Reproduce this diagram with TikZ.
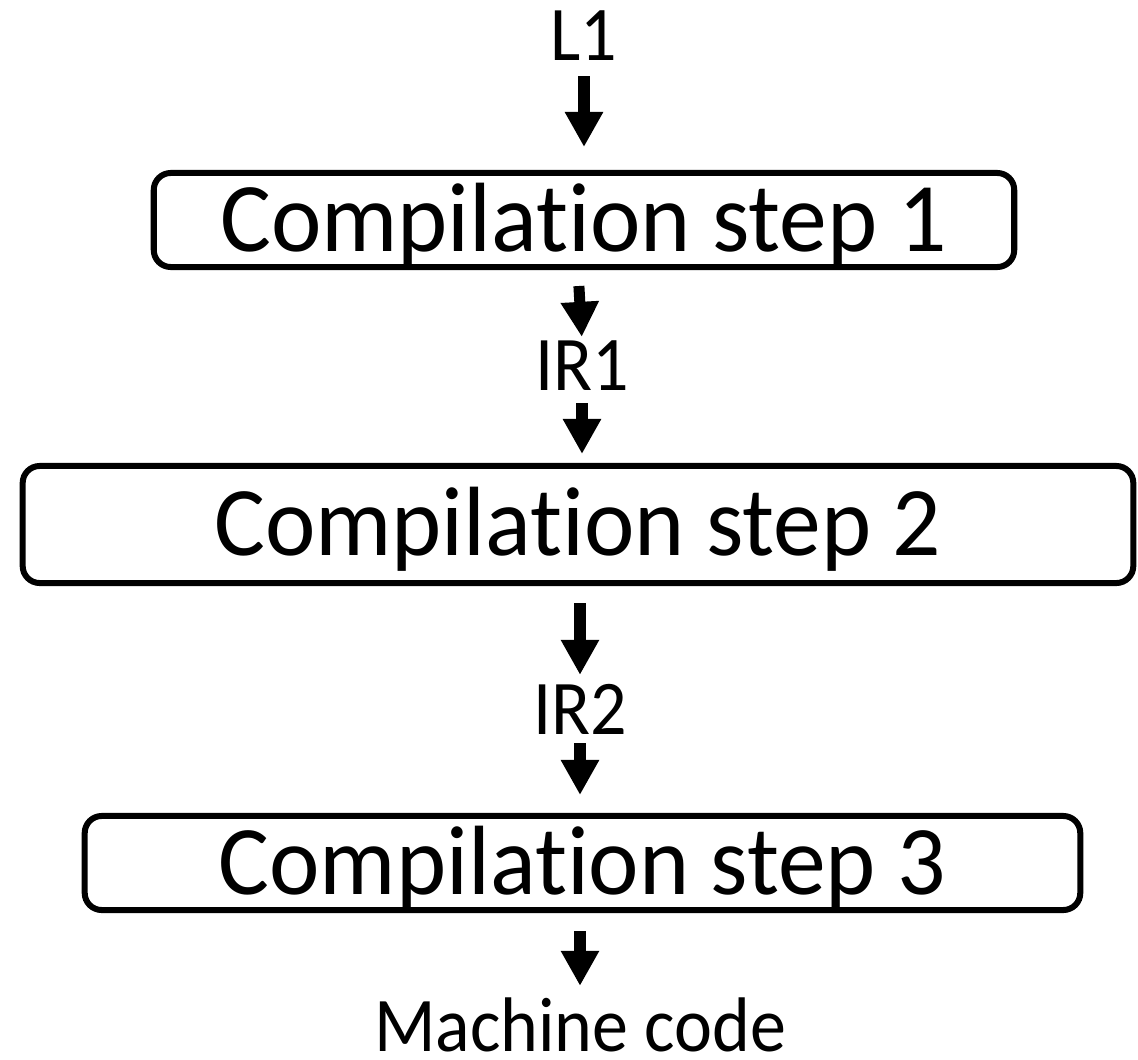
\documentclass[tikz,border=0pt]{standalone}
\usepackage{fontspec}
\setmainfont[Ligatures=NoCommon]{Carlito}
\newfontfamily\boxfont[Ligatures=NoCommon, FakeStretch=0.97]{Carlito}
\newfontfamily\tagfont[Ligatures=NoCommon, FakeStretch=0.93]{Carlito}
\usetikzlibrary{arrows.meta}

\tikzset{
  stepbox/.style={draw, line width=0.06cm, rounded corners=0.17cm,
    font=\boxfont\fontsize{28}{34}\selectfont, text height=17.7pt, text depth=0pt, inner sep=0pt},
  tag/.style={font=\tagfont\fontsize{22}{27}\selectfont, text height=13.9pt, text depth=0pt, inner sep=0pt},
  flow/.style={line width=0.11cm, -{Triangle[width=0.36cm,length=0.35cm]}},
}

\begin{document}
\begin{tikzpicture}[x=0.01cm, y=-0.01cm]

  % --- 1. 全体の枠 ---
  \useasboundingbox (0,0) rectangle (1138,1060);

  % --- 2. 入力・中間表現・出力のラベル ---
  \node[tag] (l1)  at (584, 36)   {L1};
  \node[tag] (ir1) at (582, 366)  {IR1};
  \node[tag] (ir2) at (580, 710)  {IR2};
  \node[tag] (mc)  at (580, 1027) {Machine code};

  % --- 3. コンパイル段（角丸の枠） ---
  \node[stepbox, minimum width=8.60cm,  minimum height=0.94cm] (step1) at (584, 220)   {Compilation step 1};
  \node[stepbox, minimum width=11.10cm, minimum height=1.17cm] (step2) at (578, 524.5) {Compilation step 2};
  \node[stepbox, minimum width=9.95cm,  minimum height=0.94cm] (step3) at (582.5, 863) {Compilation step 3};

  % --- 4. 流れの矢印 ---
  \draw[flow, shorten <=0.15cm, shorten >=0.23cm] (l1.south) -- (step1.north);
  \draw[flow, shorten <=0.16cm, shorten >=0.04cm] (step1.south -| ir1.north) ++(-4,0) coordinate (a2) (a2) -- (ir1.north);
  \draw[flow, shorten <=0.12cm, shorten >=0.09cm] (ir1.south) -- (step2.north -| ir1.south);
  \draw[flow, shorten <=0.17cm, shorten >=0.10cm] (step2.south -| ir2.north) -- (ir2.north);
  \draw[flow, shorten <=0.08cm, shorten >=0.18cm] (ir2.south) -- (step3.north -| ir2.south);
  \draw[flow, shorten <=0.18cm, shorten >=0.16cm] (step3.south -| mc.north) -- (mc.north);

\end{tikzpicture}
\end{document}
